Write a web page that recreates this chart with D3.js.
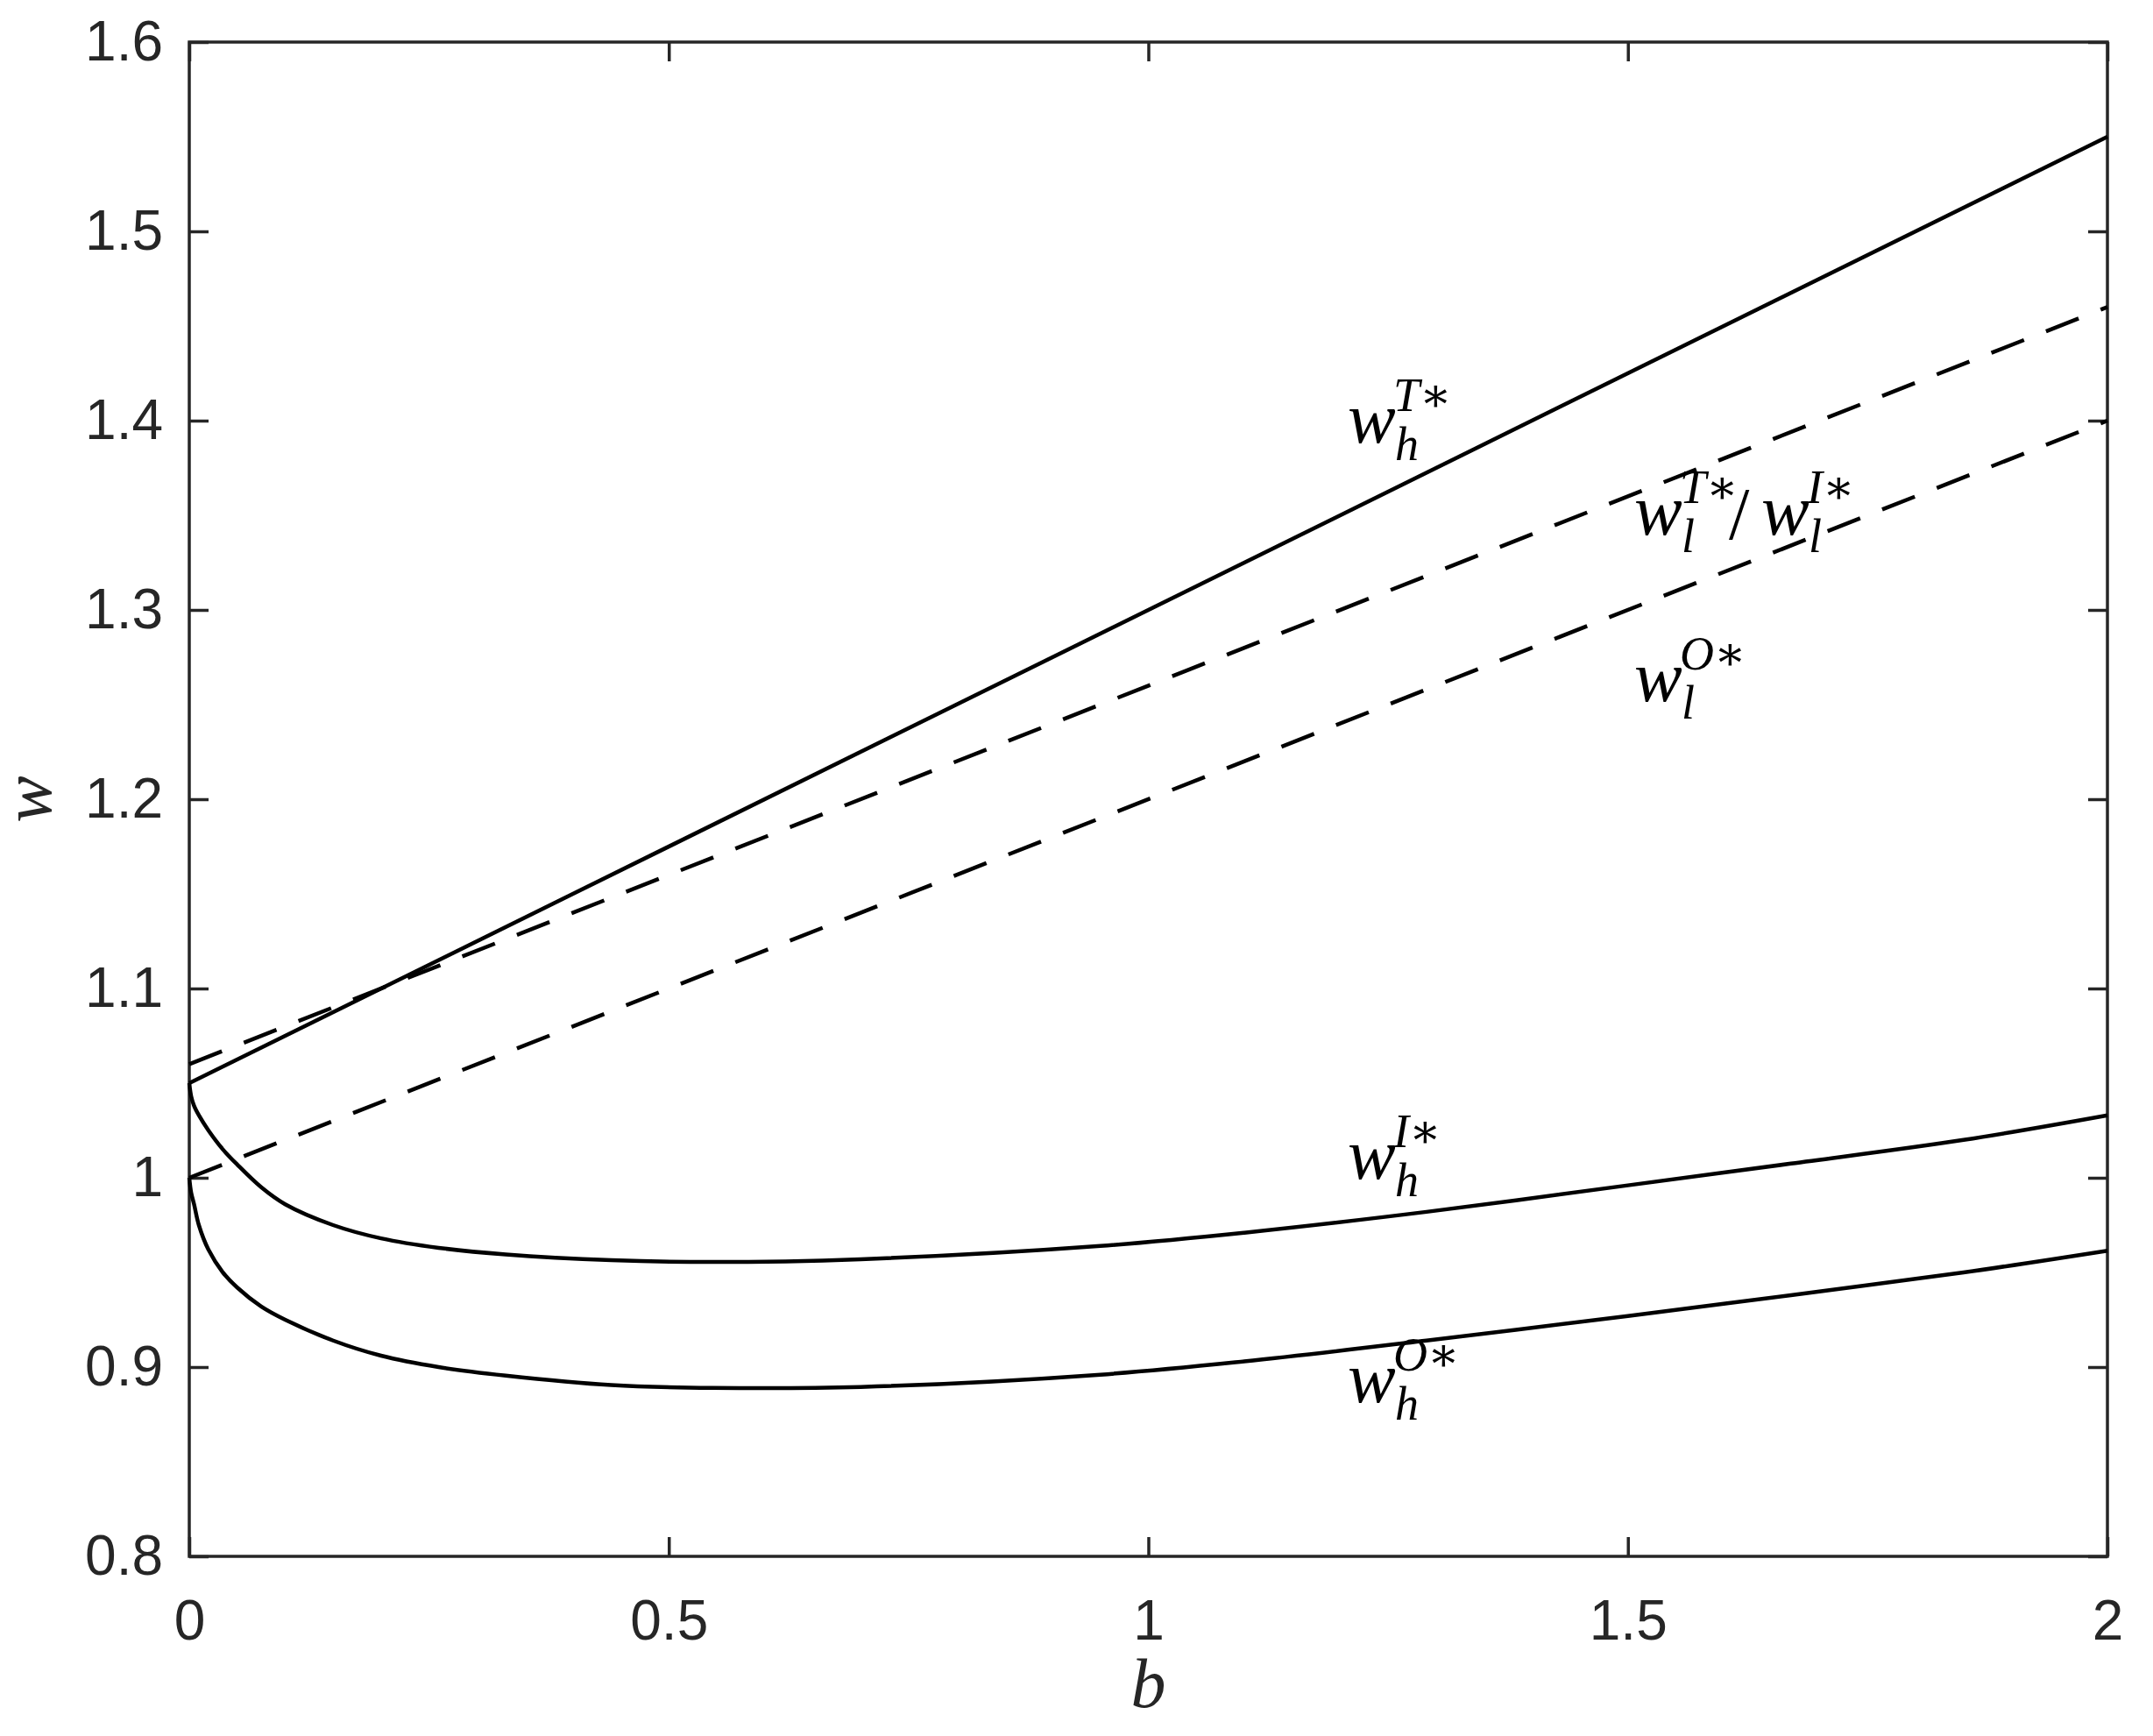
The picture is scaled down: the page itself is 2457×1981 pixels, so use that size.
<!DOCTYPE html>
<html><head><meta charset="utf-8">
<script src="https://cdn.jsdelivr.net/npm/d3@7"></script>
<style>body{margin:0;background:#fff}</style></head>
<body><svg id="c" width="2457" height="1981"></svg>
<script>
const xTicks=[0,0.5,1,1.5,2], xTickLabels=["0","0.5","1","1.5","2"];
const yTicks=[0.8,0.9,1,1.1,1.2,1.3,1.4,1.5,1.6], yTickLabels=["0.8","0.9","1","1.1","1.2","1.3","1.4","1.5","1.6"];
const bLin=[0,2];
const wTh=[1.05,1.55];
const wlTI=[1.06,1.46];
const wlO=[1.0,1.4];
const bCurve=[0,0.002,0.005,0.01,0.02,0.035,0.05,0.075,0.1,0.15,0.2,0.26,0.33,0.44,0.545,0.7,0.95,1.1,1.29,1.5,1.67,1.85,2];
const wIh=[1.05,1.043,1.038,1.033,1.025,1.015,1.007,0.995,0.986,0.975,0.968,0.963,0.9595,0.9565,0.9555,0.957,0.964,0.971,0.982,0.996,1.0075,1.020,1.033];
const wOh=[1.0,0.992,0.986,0.975,0.962,0.950,0.942,0.932,0.925,0.914,0.906,0.900,0.8955,0.8905,0.889,0.8895,0.896,0.903,0.914,0.927,0.938,0.950,0.9615];

const svg=d3.select("#c");
const L=216,R=2405,T=48,B=1776;
const x=d3.scaleLinear().domain([0,2]).range([L,R]);
const y=d3.scaleLinear().domain([0.8,1.6]).range([B,T]);
const ax="#262626";
const tf="'Liberation Sans',Arial,sans-serif";
const g=svg.append("g");
const fmtX=(d,i)=>xTickLabels[i], fmtY=(d,i)=>yTickLabels[i];
function style(sel){sel.select(".domain").remove();sel.selectAll("line").attr("stroke",ax).attr("stroke-width",3.5);
 sel.selectAll("text").attr("fill",ax).style("font-family",tf).style("font-size","64px");}
g.append("g").attr("transform",`translate(0,${B})`).call(d3.axisBottom(x).tickValues(xTicks).tickFormat(fmtX).tickSizeInner(-22).tickPadding(50)).call(style);
g.append("g").attr("transform",`translate(0,${T})`).call(d3.axisTop(x).tickValues(xTicks).tickFormat("").tickSizeInner(-22)).call(style);
g.append("g").attr("transform",`translate(${L},0)`).call(d3.axisLeft(y).tickValues(yTicks).tickFormat(fmtY).tickSizeInner(-22).tickPadding(30)).call(style);
g.append("g").attr("transform",`translate(${R},0)`).call(d3.axisRight(y).tickValues(yTicks).tickFormat("").tickSizeInner(-22)).call(style);
svg.append("rect").attr("x",L).attr("y",T).attr("width",R-L).attr("height",B-T).attr("fill","none").attr("stroke",ax).attr("stroke-width",3.5);

const line=d3.line().x(d=>x(d[0])).y(d=>y(d[1])).curve(d3.curveCatmullRom.alpha(0.5));
function draw(bs,ws,dash){svg.append("path").datum(bs.map((b,i)=>[b,ws[i]])).attr("d",line).attr("fill","none").attr("stroke","#000").attr("stroke-width",4.5).attr("stroke-dasharray",dash?"40,27":null);}
draw(bLin,wTh,false);draw(bLin,wlTI,true);draw(bLin,wlO,true);
draw(bCurve,wIh,false);draw(bCurve,wOh,false);

const mf="'Liberation Serif','DejaVu Serif',serif";
function txt(px,py,s,fs){svg.append("text").attr("x",px).attr("y",py).text(s).style("font-family",mf).style("font-style","italic").style("font-size",fs+"px").attr("fill","#000");}
function wlab(px,py,sub,sup){
 txt(px,py,"w",82);
 txt(px+54,py+20,sub,54);
 txt(px+52,py-36,sup,54);
}
wlab(1538,505,"h","T∗");
wlab(1865,610,"l","T∗");
svg.append("text").attr("x",1973).attr("y",615).text("/").style("font-family",mf).style("font-size","84px").attr("fill","#000");
wlab(2010,610,"l","I∗");
wlab(1865,800,"l","O∗");
wlab(1538,1345,"h","I∗");
wlab(1538,1600,"h","O∗");

svg.append("text").attr("x",(L+R)/2).attr("y",1948).attr("text-anchor","middle").text("b").style("font-family",mf).style("font-style","italic").style("font-size","80px").attr("fill",ax);
svg.append("text").attr("transform",`translate(58,${(T+B)/2}) rotate(-90)`).attr("text-anchor","middle").text("w").style("font-family",mf).style("font-style","italic").style("font-size","80px").attr("fill",ax);
</script></body></html>
